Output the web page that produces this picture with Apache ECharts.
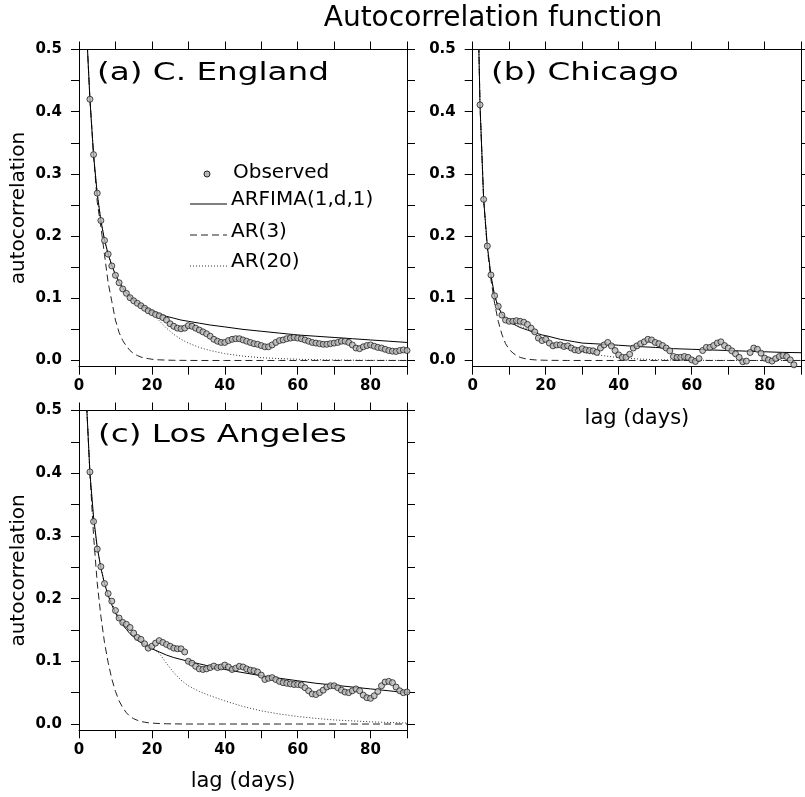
<!DOCTYPE html>
<html>
<head>
<meta charset="utf-8">
<script src="https://cdn.jsdelivr.net/npm/echarts@6/dist/echarts.min.js"></script>
<style>
  html, body { margin: 0; padding: 0; background: #fff; }
  #chart { width: 805px; height: 797px; }
</style>
</head>
<body>
<div id="chart"></div>
<script>
// lags of the observed acf, 1..90 days
const lags = Array.from({ length: 90 }, (_, i) => i + 1);
// lags at which the fitted model curves are read
const fitLags = [1, 2, 3, 4, 5, 6, 7, 8, 9, 10, 11, 12, 13, 14, 15, 16, 17, 18, 19, 20,
  22, 24, 26, 28, 30, 33, 36, 40, 45, 50, 55, 60, 65, 70, 75, 80, 85, 90];

const xTicks = [0, 10, 20, 30, 40, 50, 60, 70, 80, 90];
const xLabels = [0, 20, 40, 60, 80];
const yTicks = [0, 0.05, 0.1, 0.15, 0.2, 0.25, 0.3, 0.35, 0.4, 0.45, 0.5];
const yLabels = [0, 0.1, 0.2, 0.3, 0.4, 0.5];

// (a) C. England
const englandObs = [0.70, 0.54, 0.42, 0.331, 0.269, 0.225, 0.193, 0.171, 0.152, 0.137,
  0.125, 0.115, 0.108, 0.101, 0.096, 0.092, 0.088, 0.084, 0.080, 0.077,
  0.074, 0.072, 0.069, 0.065, 0.059, 0.055, 0.052, 0.051, 0.052, 0.056,
  0.055, 0.052, 0.049, 0.046, 0.043, 0.039, 0.034, 0.031, 0.029, 0.029,
  0.032, 0.034, 0.035, 0.035, 0.033, 0.031, 0.029, 0.027, 0.026, 0.024,
  0.022, 0.022, 0.025, 0.029, 0.032, 0.033, 0.035, 0.036, 0.037, 0.036,
  0.035, 0.033, 0.031, 0.029, 0.028, 0.027, 0.026, 0.026, 0.027, 0.028,
  0.029, 0.031, 0.031, 0.029, 0.025, 0.020, 0.019, 0.022, 0.024, 0.025,
  0.023, 0.021, 0.020, 0.018, 0.016, 0.015, 0.0145, 0.016, 0.017, 0.016];
const englandArfima = [0.72, 0.54, 0.42, 0.33, 0.268, 0.225, 0.194, 0.171, 0.153, 0.138,
  0.126, 0.117, 0.109, 0.103, 0.098, 0.093, 0.089, 0.086, 0.083, 0.080,
  0.075, 0.071, 0.068, 0.065, 0.063, 0.060, 0.057, 0.054,
  0.050, 0.047, 0.044, 0.041, 0.039, 0.037, 0.035, 0.033, 0.031, 0.029];
const englandAr3 = [0.72, 0.54, 0.42, 0.33, 0.255, 0.215, 0.17, 0.125, 0.095, 0.065,
  0.045, 0.032, 0.023, 0.016, 0.011, 0.008, 0.0055, 0.004, 0.003, 0.002,
  0.001, 0.0006, 0.0003, 0.0002, 0.0001, 0, 0, 0,
  0, 0, 0, 0, 0, 0, 0, 0, 0, 0];
const englandAr20 = [0.72, 0.54, 0.42, 0.331, 0.269, 0.225, 0.193, 0.171, 0.152, 0.137,
  0.125, 0.115, 0.108, 0.101, 0.096, 0.092, 0.088, 0.084, 0.080, 0.076,
  0.064, 0.052, 0.042, 0.034, 0.028, 0.021, 0.016, 0.011,
  0.007, 0.0045, 0.003, 0.002, 0.0013, 0.0008, 0.0005, 0.0003, 0.0002, 0.0001];

// (b) Chicago
const chicagoObs = [0.70, 0.411, 0.259, 0.184, 0.1375, 0.104, 0.087, 0.073, 0.065, 0.063,
  0.063, 0.064, 0.063, 0.0615, 0.058, 0.052, 0.046, 0.036, 0.032, 0.034,
  0.028, 0.0235, 0.025, 0.025, 0.0225, 0.0235, 0.020, 0.017, 0.016, 0.019,
  0.017, 0.016, 0.0155, 0.013, 0.020, 0.025, 0.029, 0.0235, 0.016, 0.009,
  0.005, 0.005, 0.010, 0.020, 0.0235, 0.027, 0.030, 0.034, 0.033, 0.029,
  0.027, 0.024, 0.020, 0.0155, 0.0064, 0.005, 0.005, 0.0064, 0.005, 0.001,
  -0.0016, 0.003, 0.016, 0.021, 0.021, 0.024, 0.028, 0.030, 0.024, 0.020,
  0.0155, 0.0107, 0.005, -0.002, -0.001, 0.0128, 0.020, 0.018, 0.0118, 0.0037,
  0.001, -0.001, 0.003, 0.0064, 0.008, 0.0064, 0.001, -0.007, -0.012, -0.015];
const chicagoArfima = [0.70, 0.411, 0.259, 0.184, 0.137, 0.104, 0.086, 0.075, 0.068, 0.063,
  0.059, 0.056, 0.053, 0.051, 0.049, 0.047, 0.045, 0.043, 0.041, 0.040,
  0.037, 0.034, 0.032, 0.030, 0.028, 0.027, 0.026, 0.0245,
  0.0225, 0.021, 0.019, 0.018, 0.017, 0.016, 0.015, 0.014, 0.013, 0.0125];
const chicagoAr3 = [0.70, 0.411, 0.259, 0.180, 0.13, 0.092, 0.063, 0.042, 0.027, 0.018,
  0.012, 0.008, 0.005, 0.0033, 0.0022, 0.0015, 0.001, 0.0007, 0.0005, 0.0003,
  0.0002, 0.0001, 0, 0, 0, 0, 0, 0,
  0, 0, 0, 0, 0, 0, 0, 0, 0, 0];
const chicagoAr20 = [0.70, 0.411, 0.259, 0.184, 0.137, 0.104, 0.087, 0.074, 0.066, 0.062,
  0.060, 0.058, 0.056, 0.053, 0.050, 0.046, 0.042, 0.038, 0.035, 0.032,
  0.027, 0.023, 0.019, 0.016, 0.013, 0.010, 0.0075, 0.0045,
  0.0025, 0.0013, 0.0007, 0.0004, 0.0002, 0.0001, 0, 0, 0, 0];

// (c) Los Angeles
const laObs = [0.70, 0.52, 0.402, 0.323, 0.279, 0.251, 0.224, 0.208, 0.196, 0.181,
  0.169, 0.162, 0.159, 0.154, 0.145, 0.138, 0.135, 0.128, 0.121, 0.124,
  0.129, 0.133, 0.130, 0.127, 0.124, 0.121, 0.120, 0.120, 0.115, 0.100,
  0.097, 0.092, 0.088, 0.087, 0.088, 0.090, 0.0925, 0.090, 0.091, 0.094,
  0.091, 0.087, 0.089, 0.092, 0.091, 0.088, 0.086, 0.085, 0.083, 0.078,
  0.071, 0.073, 0.074, 0.071, 0.068, 0.066, 0.065, 0.064, 0.063, 0.063,
  0.062, 0.058, 0.053, 0.048, 0.047, 0.050, 0.054, 0.059, 0.061, 0.061,
  0.058, 0.054, 0.051, 0.050, 0.053, 0.056, 0.053, 0.046, 0.042, 0.041,
  0.045, 0.052, 0.061, 0.067, 0.068, 0.066, 0.059, 0.053, 0.050, 0.051];
const laArfima = [0.70, 0.52, 0.40, 0.33, 0.282, 0.249, 0.224, 0.205, 0.19, 0.177,
  0.167, 0.158, 0.151, 0.144, 0.139, 0.134, 0.130, 0.126, 0.123, 0.120,
  0.115, 0.110, 0.106, 0.103, 0.100, 0.096, 0.092, 0.087,
  0.082, 0.077, 0.073, 0.069, 0.065, 0.062, 0.059, 0.056, 0.053, 0.050];
const laAr3 = [0.70, 0.52, 0.40, 0.30, 0.225, 0.172, 0.130, 0.098, 0.072, 0.052,
  0.037, 0.026, 0.018, 0.012, 0.0085, 0.006, 0.004, 0.003, 0.002, 0.0015,
  0.0008, 0.0004, 0.0002, 0.0001, 0, 0, 0, 0,
  0, 0, 0, 0, 0, 0, 0, 0, 0, 0];
const laAr20 = [0.70, 0.52, 0.40, 0.325, 0.28, 0.25, 0.224, 0.207, 0.194, 0.18,
  0.169, 0.161, 0.156, 0.151, 0.144, 0.138, 0.134, 0.129, 0.124, 0.122,
  0.113, 0.097, 0.082, 0.070, 0.061, 0.052, 0.045, 0.037,
  0.028, 0.021, 0.016, 0.012, 0.009, 0.0065, 0.005, 0.0035, 0.0025, 0.0015];

const FONT = 'DejaVu Sans';
const chart = echarts.init(document.getElementById('chart'), null, { renderer: 'canvas' });

const grids = [
  { left: 79, top: 49.5, width: 328, height: 317.2 },
  { left: 472.7, top: 49.5, width: 328.5, height: 317.2 },
  { left: 79, top: 410.5, width: 328, height: 319.8 }
];

function xAxes(g, withName) {
  const base = {
    gridIndex: g, type: 'value', min: 0, max: 90,
    axisLine: { show: true, onZero: false, lineStyle: { color: '#000', width: 1 } },
    axisTick: { show: true, inside: false, length: 8, customValues: xTicks, lineStyle: { color: '#000' } },
    splitLine: { show: false }
  };
  return [
    Object.assign({}, base, {
      position: 'bottom',
      axisLabel: { customValues: xLabels, margin: 12, color: '#000', fontFamily: FONT, fontWeight: 'bold', fontSize: 15 },
      name: withName ? 'lag (days)' : '',
      nameLocation: 'middle', nameGap: 41,
      nameTextStyle: { color: '#000', fontFamily: FONT, fontSize: 21 }
    }),
    Object.assign({}, base, { position: 'top', axisLabel: { show: false } })
  ];
}

function yAxes(g, withName) {
  const base = {
    gridIndex: g, type: 'value', min: -0.01, max: 0.5,
    axisLine: { show: true, onZero: false, lineStyle: { color: '#000', width: 1 } },
    axisTick: { show: true, inside: false, length: 8, customValues: yTicks, lineStyle: { color: '#000' } },
    splitLine: { show: false }
  };
  return [
    Object.assign({}, base, {
      position: 'left',
      axisLabel: {
        customValues: yLabels, margin: 17, color: '#000', fontFamily: FONT, fontWeight: 'bold', fontSize: 15,
        formatter: v => v.toFixed(1)
      },
      name: withName ? 'autocorrelation' : '',
      nameLocation: 'middle', nameGap: 50,
      nameTextStyle: { color: '#000', fontFamily: FONT, fontSize: 20 }
    }),
    Object.assign({}, base, { position: 'right', axisLabel: { show: false } })
  ];
}

function panelSeries(g, obs, arfima, ar3, ar20) {
  const ax = { xAxisIndex: 2 * g, yAxisIndex: 2 * g };
  const pairs = (xs, ys) => xs.map((x, i) => [x, ys[i]]);
  const line = (name, ys, type, color) => Object.assign({
    name: name, type: 'line', data: pairs(fitLags, ys), showSymbol: false, symbol: 'none',
    clip: true, z: 2, silent: true,
    lineStyle: { color: color, width: 1, type: type }
  }, ax);
  return [
    line('AR(3)', ar3, [7, 4], '#222'),
    line('AR(20)', ar20, [1, 2], '#333'),
    line('ARFIMA(1,d,1)', arfima, 'solid', '#000'),
    Object.assign({
      name: 'Observed', type: 'scatter', data: pairs(lags, obs), symbol: 'circle', symbolSize: 6,
      clip: true, z: 3, silent: true,
      itemStyle: { color: '#b8b8b8', borderColor: '#222', borderWidth: 1 }
    }, ax)
  ];
}

const txt = (text, x, y, size, align, sx) => ({
  type: 'text', x: x, y: y, scaleX: sx || 1,
  style: {
    text: text, font: size + 'px "' + FONT + '"', fill: '#000',
    align: align, textAlign: align, verticalAlign: 'middle', textVerticalAlign: 'middle'
  }
});

const legendX1 = 190, legendX2 = 227, legendTextX = 231;
const graphic = [
  txt('Autocorrelation function', 493, 19, 28, 'center'),
  txt('(a) C. England', 97, 74, 24, 'left', 1.36),
  txt('(b) Chicago', 491, 74, 24, 'left', 1.36),
  txt('(c) Los Angeles', 98, 436, 24, 'left', 1.36),
  { type: 'circle', shape: { cx: 207, cy: 174, r: 3 }, style: { fill: '#b8b8b8', stroke: '#222', lineWidth: 1 } },
  txt('Observed', 233, 173, 20, 'left'),
  { type: 'line', shape: { x1: legendX1, y1: 204, x2: legendX2, y2: 204 }, style: { stroke: '#000', lineWidth: 1 } },
  txt('ARFIMA(1,d,1)', legendTextX, 200, 20, 'left'),
  { type: 'line', shape: { x1: legendX1, y1: 235, x2: legendX2, y2: 235 }, style: { stroke: '#222', lineWidth: 1, lineDash: [7, 4] } },
  txt('AR(3)', legendTextX, 232, 20, 'left'),
  { type: 'line', shape: { x1: legendX1, y1: 266, x2: legendX2, y2: 266 }, style: { stroke: '#333', lineWidth: 1, lineDash: [1, 2] } },
  txt('AR(20)', legendTextX, 262, 20, 'left')
];

const option = {
  animation: false,
  backgroundColor: '#fff',
  grid: grids,
  xAxis: [].concat(xAxes(0, false), xAxes(1, true), xAxes(2, true)),
  yAxis: [].concat(yAxes(0, true), yAxes(1, false), yAxes(2, true)),
  series: [].concat(
    panelSeries(0, englandObs, englandArfima, englandAr3, englandAr20),
    panelSeries(1, chicagoObs, chicagoArfima, chicagoAr3, chicagoAr20),
    panelSeries(2, laObs, laArfima, laAr3, laAr20)
  ),
  graphic: graphic
};
chart.setOption(option);
</script>
</body>
</html>
